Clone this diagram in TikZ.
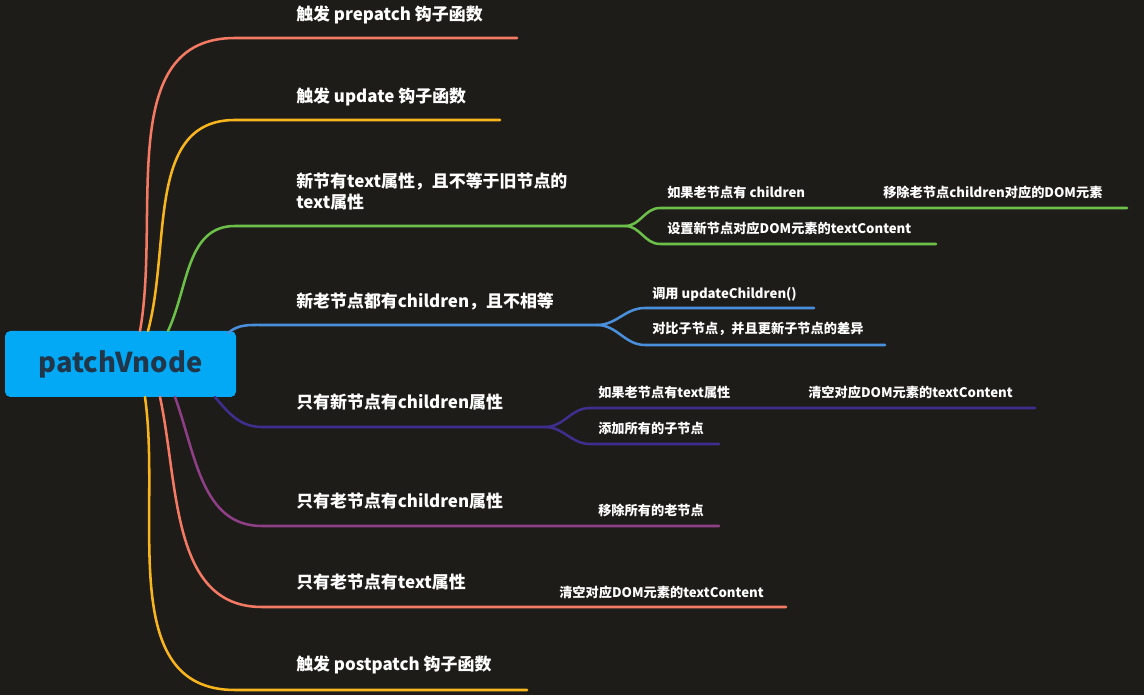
\documentclass[tikz,border=0pt]{standalone}
\usepackage{fontspec}
\newfontfamily\cjk{Noto Sans CJK SC}
\usetikzlibrary{positioning}
\definecolor{bg}{HTML}{1E1C19}
\definecolor{rootc}{HTML}{03A9F4}
\definecolor{roottxt}{HTML}{22364A}
\definecolor{cred}{HTML}{F47A63}
\definecolor{cyel}{HTML}{F9B61C}
\definecolor{cgrn}{HTML}{6CC04A}
\definecolor{cblu}{HTML}{4A8FDB}
\definecolor{cind}{HTML}{3E2F8E}
\definecolor{cpur}{HTML}{8E3F86}

\tikzset{
  branch/.style={line width=1.9pt, line cap=round},
  main/.style={anchor=base west, inner sep=0pt, text=white, font=\cjk\bfseries\fontsize{12.7}{16}\selectfont, align=left},
  sub/.style={anchor=base west, inner sep=0pt, text=white, font=\cjk\bfseries\fontsize{9.9}{12}\selectfont}
}

\begin{document}
\begin{tikzpicture}[x=0.75pt,y=0.75pt]
  \fill[bg] (0,0) rectangle (1144,695);
  \useasboundingbox (0,0) rectangle (1144,695);

  % root
  \node (root) [fill=rootc, rounded corners=4pt, minimum width=231*0.75pt, minimum height=66*0.75pt,
    text=roottxt, font=\cjk\bfseries\fontsize{20.5}{24}\selectfont] at (120.5,331) {patchVnode};

  % first level
  \coordinate (s1) at (140,364); \coordinate (e1) at (235,657);
  \coordinate (s2) at (148,364); \coordinate (e2) at (235,575);
  \coordinate (s3) at (168,364); \coordinate (e3) at (235,469);
  \coordinate (s4) at (228,362); \coordinate (e4) at (262,370);
  \coordinate (s5) at (215,298); \coordinate (e5) at (262,268);
  \coordinate (s6) at (175,298); \coordinate (e6) at (262,169);
  \coordinate (s7) at (160,298); \coordinate (e7) at (262,88);
  \coordinate (s8) at (145,298); \coordinate (e8) at (235,5);

  \draw[branch, cred] (s1) to[out=80,in=180] (e1) -- (517,657) coordinate (f1);
  \draw[branch, cyel] (s2) to[out=75,in=180] (e2) -- (500,575) coordinate (f2);
  \draw[branch, cgrn] (s3) to[out=65,in=180] (e3) -- (625,469) coordinate (f3);
  \draw[branch, cblu] (s4) to[out=40,in=180] (e4) -- (597,370) coordinate (f4);
  \draw[branch, cind] (s5) to[out=-50,in=180] (e5) -- (545,268) coordinate (f5);
  \draw[branch, cpur] (s6) to[out=-70,in=180] (e6) -- (719,169) coordinate (f6);
  \draw[branch, cred] (s7) to[out=-78,in=180] (e7) -- (786,88) coordinate (f7);
  \draw[branch, cyel] (s8) to[out=-82,in=180] (e8) -- (527,5) coordinate (f8);

  \node (t1) [main] at (296,674) {触发 prepatch 钩子函数};
  \node (t2) [main] at (296,592) {触发 update 钩子函数};
  \node (t3) [main] at (296,486) {新节有text属性，且不等于旧节点的\\text属性};
  \node (t4) [main] at (296,387) {新老节点都有children，且不相等};
  \node (t5) [main] at (296,286) {只有新节点有children属性};
  \node (t6) [main] at (296,187) {只有老节点有children属性};
  \node (t7) [main] at (296,106) {只有老节点有text属性};
  \node (t8) [main] at (296,24) {触发 postpatch 钩子函数};

  % second level
  \draw[branch, cgrn] (f3) to[out=0,in=180] (660,487) -- (1127,487);
  \draw[branch, cgrn] (f3) to[out=0,in=180] (660,451) -- (936,451);
  \node (t31) [sub] at (667,497) {如果老节点有 children};
  \node (t32) [sub] at (883,497) {移除老节点children对应的DOM元素};
  \node (t33) [sub] at (667,461) {设置新节点对应DOM元素的textContent};

  \draw[branch, cblu] (f4) to[out=0,in=180] (645,387) -- (814,387);
  \draw[branch, cblu] (f4) to[out=0,in=180] (645,350) -- (885,350);
  \node (t41) [sub] at (652,396) {调用 updateChildren()};
  \node (t42) [sub] at (652,361) {对比子节点，并且更新子节点的差异};

  \draw[branch, cind] (f5) to[out=0,in=180] (590,287) -- (1035,287);
  \draw[branch, cind] (f5) to[out=0,in=180] (590,251) -- (719,251);
  \node (t51) [sub] at (598,297) {如果老节点有text属性};
  \node (t52) [sub] at (808,297) {清空对应DOM元素的textContent};
  \node (t53) [sub] at (598,261) {添加所有的子节点};

  \node (t61) [sub] at (598,179) {移除所有的老节点};
  \node (t71) [sub] at (559,97) {清空对应DOM元素的textContent};
\end{tikzpicture}
\end{document}
